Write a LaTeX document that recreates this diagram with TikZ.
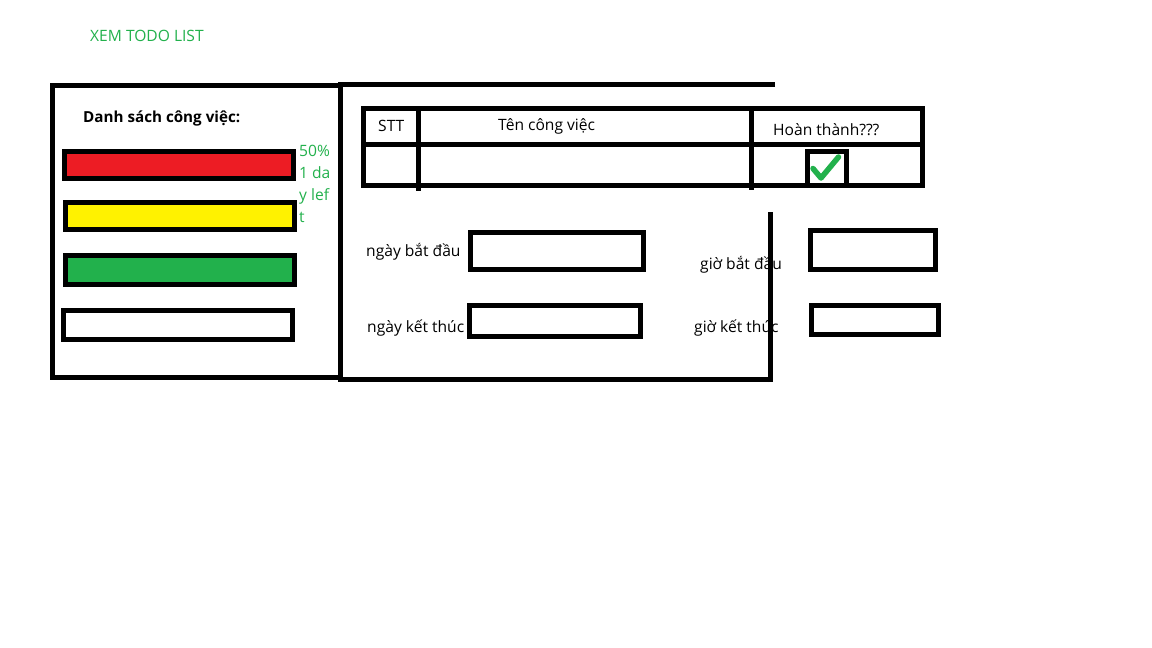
\documentclass[tikz,border=0pt]{standalone}
\usepackage{fontspec}
\setmainfont{Open Sans}
\begin{document}
\definecolor{paintred}{RGB}{237,28,36}
\definecolor{paintyellow}{RGB}{255,242,0}
\definecolor{paintgreen}{RGB}{34,177,76}
\begin{tikzpicture}[x=1pt,y=-1pt,
  stroke/.style={line width=5pt},
  box/.style={draw,line width=5pt,inner sep=0pt},
  lbl/.style={inner sep=0pt,anchor=base west,font=\fontsize{15.6}{18}\selectfont},
  glbl/.style={lbl,text=paintgreen}]
% page
\fill[white] (0,0) rectangle (1152,648);
\useasboundingbox (0,0) rectangle (1152,648);

% title
\node[glbl] (title) at (90,41.5) {XEM TODO LIST};

% left panel: task list
\coordinate (lTL) at (52.5,85.5);
\coordinate (lBR) at (340,377.5);
\draw[stroke] (lTL) rectangle (lBR);
\node[lbl,font=\bfseries\fontsize{15.2}{18}\selectfont] (listhead) at (83,122.5) {Danh sách công việc:};
\node[box,fill=paintred,minimum width=229pt,minimum height=27pt] (bar1) at (179,165) {};
\node[box,fill=paintyellow,minimum width=229pt,minimum height=27pt] (bar2) at (180,216) {};
\node[box,fill=paintgreen,minimum width=229pt,minimum height=29pt] (bar3) at (180,270) {};
\node[box,fill=white,minimum width=229pt,minimum height=29pt] (bar4) at (178,325) {};
\node[glbl,anchor=north west,align=left,font=\fontsize{15.6}{22}\selectfont] (pct) at (299,145) {50\%\\1 da\\y lef\\t};

% right panel outline, open on the upper right
\coordinate (pTL) at (340,84.5);
\coordinate (pTR) at (775,84.5);
\coordinate (pBL) at (340,379.5);
\coordinate (pBR) at (772.5,379.5);
\coordinate (pMR) at (770,212);
\draw[stroke] (pTR) -- (pTL) -- (pBL);
\draw[stroke] (337.5,379.5) -- (pBR);
\draw[stroke] (770,382) -- (pMR);

% table
\coordinate (tTL) at (363,108.5);
\coordinate (tBR) at (922.5,185.5);
\draw[stroke] (tTL) rectangle (tBR);
\coordinate (rowL) at (363,144);
\coordinate (rowR) at (922.5,144);
\draw[stroke] (rowL) -- (rowR);
\coordinate (c1t) at (418.5,108.5);
\coordinate (c1b) at (418.5,190.5);
\coordinate (c2t) at (751.5,108.5);
\coordinate (c2b) at (751.5,190);
\draw[stroke] (c1t) -- (c1b);
\draw[stroke] (c2t) -- (c2b);
\node[lbl] (hstt) at (378,131) {STT};
\node[lbl] (hname) at (498,130) {Tên công việc};
\node[lbl] (hdone) at (773,135) {Hoàn thành???};

% done checkbox
\node[box,minimum width=39pt,minimum height=34pt] (chk) at (827,168.7) {};
\coordinate (ck1) at (813,168.5);
\coordinate (ck2) at (821,178);
\coordinate (ck3) at (838.5,157);
\draw[paintgreen,line width=5.5pt,line cap=round,line join=round] (ck1) -- (ck2) -- (ck3);

% date and time fields
\node[lbl] (lstartd) at (366,256) {ngày bắt đầu};
\node[box,minimum width=173pt,minimum height=37pt] (fstartd) at (557,251) {};
\node[lbl] (lendd) at (367,332) {ngày kết thúc};
\node[box,minimum width=171pt,minimum height=31pt] (fendd) at (555,321) {};
\node[lbl] (lstartt) at (700,269) {giờ bắt đầu};
\node[box,minimum width=125pt,minimum height=39pt] (fstartt) at (873,250) {};
\node[lbl] (lendt) at (694,332) {giờ kết thúc};
\node[box,minimum width=127pt,minimum height=29pt] (fendt) at (875,320) {};
\end{tikzpicture}
\end{document}
